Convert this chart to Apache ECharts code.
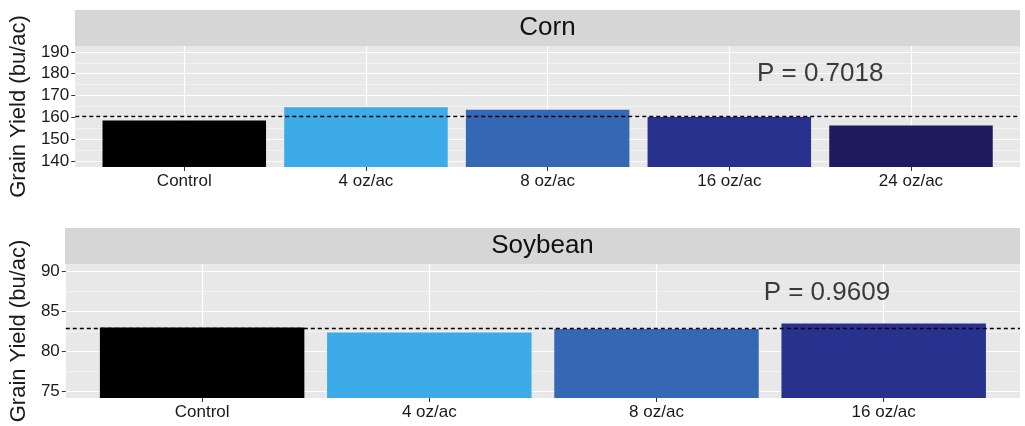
<!DOCTYPE html>
<html>
<head>
<meta charset="utf-8">
<script src="https://cdn.jsdelivr.net/npm/echarts@6/dist/echarts.min.js"></script>
<style>
html,body{margin:0;padding:0;background:#fff;}
#chart{width:1025px;height:426px;}
</style>
</head>
<body>
<div id="chart"></div>
<script>
// ---- data ----
const cornCategories = ['Control', '4 oz/ac', '8 oz/ac', '16 oz/ac', '24 oz/ac'];
const cornYield = [158.6, 164.6, 163.5, 160.2, 156.3];
const cornTicks = [140, 150, 160, 170, 180, 190];
const cornMinorTicks = [145, 155, 165, 175, 185];
const cornP = 'P = 0.7018';
const cornPAt = [3.5, 180];

const soyCategories = ['Control', '4 oz/ac', '8 oz/ac', '16 oz/ac'];
const soyYield = [82.95, 82.3, 82.75, 83.45];
const soyTicks = [75, 80, 85, 90];
const soyMinorTicks = [77.5, 82.5, 87.5];
const soyP = 'P = 0.9609';
const soyPAt = [2.75, 87.3];

const barColors = ['#000000', '#3cabe7', '#3568b4', '#29318f', '#1e1b5e'];

// ---- helpers ----
const FONT = "'Liberation Sans', Arial, sans-serif";
const TXT = '#1a1a1a';
const mean = a => a.reduce((s, v) => s + v, 0) / a.length;

function xAxisFor(gridIndex, cats) {
  const idx = cats.map((_, i) => i);
  return {
    type: 'value', gridIndex,
    min: -0.6, max: cats.length - 0.4,
    axisLine: {show: false, onZero: false},
    axisTick: {show: true, length: 4, customValues: idx, lineStyle: {color: '#333', width: 1}},
    axisLabel: {customValues: idx, formatter: v => cats[Math.round(v)], color: TXT,
      fontSize: 17, fontFamily: FONT, margin: 6},
    splitLine: {show: true, lineStyle: {color: '#ffffff', width: 1.2}}
  };
}
function yAxesFor(gridIndex, min, max, ticks, minor, nameGap) {
  return [{
    type: 'value', gridIndex, min, max, position: 'left',
    name: 'Grain Yield (bu/ac)', nameLocation: 'middle', nameGap,
    nameTextStyle: {fontSize: 22, color: TXT, fontFamily: FONT},
    axisLine: {show: false, onZero: false},
    axisTick: {show: true, length: 4, customValues: ticks, lineStyle: {color: '#333', width: 1}},
    axisLabel: {customValues: ticks, color: TXT, fontSize: 17, fontFamily: FONT, margin: 6},
    splitLine: {show: true, lineStyle: {color: '#ffffff', width: 1.2}}
  }, {
    type: 'value', gridIndex, min, max, position: 'left',
    axisLine: {show: false, onZero: false},
    axisTick: {show: false, customValues: minor},
    axisLabel: {show: false},
    splitLine: {show: true, lineStyle: {color: '#f7f7f7', width: 0.7}}
  }];
}
function barSeries(axisIdx, vals) {
  return {
    type: 'bar', xAxisIndex: axisIdx, yAxisIndex: axisIdx * 2,
    barWidth: '90%', clip: true,
    data: vals.map((v, i) => ({value: [i, v], itemStyle: {color: barColors[i]}})),
    markLine: {
      silent: true, symbol: 'none', label: {show: false},
      lineStyle: {color: '#000', type: [4, 3], width: 1.3},
      data: [{yAxis: mean(vals)}]
    },
    z: 3
  };
}
function pSeries(axisIdx, txt, at) {
  return {
    type: 'scatter', xAxisIndex: axisIdx, yAxisIndex: axisIdx * 2,
    symbolSize: 0, silent: true,
    data: [at],
    label: {show: true, position: 'inside', formatter: txt, fontSize: 26, color: '#0d0d0d', fontFamily: FONT},
    z: 5
  };
}

const chart = echarts.init(document.getElementById('chart'), null, {renderer: 'canvas'});
chart.setOption({
  animation: false,
  backgroundColor: '#ffffff',
  grid: [
    {left: 75, top: 46, width: 945, height: 121, show: true, backgroundColor: '#e8e8e8', borderWidth: 0},
    {left: 65, top: 264, width: 955, height: 134, show: true, backgroundColor: '#e8e8e8', borderWidth: 0}
  ],
  graphic: [
    {type: 'rect', shape: {x: 75, y: 10, width: 945, height: 36}, style: {fill: '#d6d6d6'}, z: 0},
    {type: 'text', x: 547.5, y: 28, style: {text: 'Corn', fontSize: 26, fontFamily: FONT, fill: '#111', align: 'center', verticalAlign: 'middle'}, z: 1},
    {type: 'rect', shape: {x: 65, y: 228, width: 955, height: 36}, style: {fill: '#d6d6d6'}, z: 0},
    {type: 'text', x: 542.5, y: 246, style: {text: 'Soybean', fontSize: 26, fontFamily: FONT, fill: '#111', align: 'center', verticalAlign: 'middle'}, z: 1}
  ],
  xAxis: [xAxisFor(0, cornCategories), xAxisFor(1, soyCategories)],
  yAxis: [
    ...yAxesFor(0, 137.3, 192.7, cornTicks, cornMinorTicks, 40),
    ...yAxesFor(1, 74.1, 90.9, soyTicks, soyMinorTicks, 30)
  ],
  series: [
    barSeries(0, cornYield),
    pSeries(0, cornP, cornPAt),
    barSeries(1, soyYield),
    pSeries(1, soyP, soyPAt)
  ]
});
</script>
</body>
</html>
